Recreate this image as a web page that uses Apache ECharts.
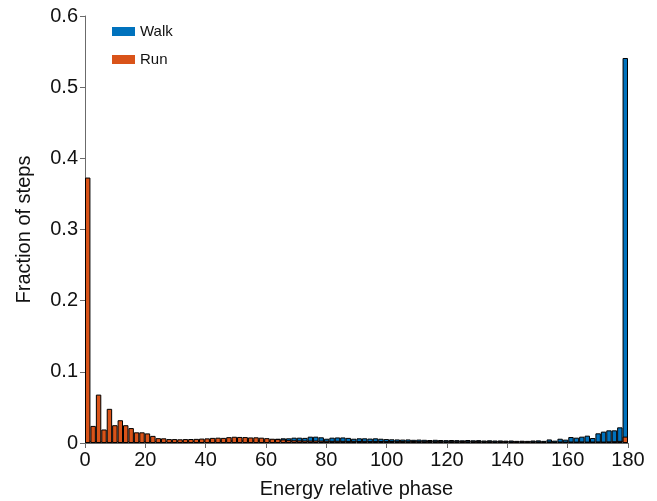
<!DOCTYPE html>
<html>
<head>
<meta charset="utf-8">
<script src="https://cdn.jsdelivr.net/npm/echarts@6/dist/echarts.min.js"></script>
<style>html,body{margin:0;padding:0;background:#fff}#c{width:657px;height:501px}</style>
</head>
<body>
<div id="c"></div>
<script>
// 100 bins of width 1.8 covering 0..180
var binCount = 100;
var binWidth = 1.8;
var xTicks = [0, 20, 40, 60, 80, 100, 120, 140, 160, 180];
var yTicks = [0, 0.1, 0.2, 0.3, 0.4, 0.5, 0.6];

var runValues = [
  0.373, 0.024, 0.068, 0.019, 0.048, 0.025, 0.032, 0.025, 0.021, 0.015,
  0.015, 0.0135, 0.010, 0.0068, 0.0066, 0.0055, 0.0055, 0.0052, 0.0055, 0.0056,
  0.0058, 0.0062, 0.0065, 0.0072, 0.0075, 0.0072, 0.0082, 0.0088, 0.0085, 0.0083,
  0.0078, 0.0080, 0.0075, 0.0068, 0.0060, 0.0055, 0.0050, 0.0040, 0.0038, 0.0036,
  0.0035, 0.0034, 0.0035, 0.0033, 0.0032, 0.0030, 0.0031, 0.0030, 0.0029, 0.0030,
  0.0028, 0.0030, 0.0027, 0.0029, 0.0028, 0.0027, 0.0028, 0.0026, 0.0027, 0.0025,
  0.0028, 0.0026, 0.0025, 0.0027, 0.0025, 0.0026, 0.0024, 0.0026, 0.0025, 0.0027,
  0.0024, 0.0025, 0.0026, 0.0024, 0.0025, 0.0023, 0.0025, 0.0024, 0.0023, 0.0022,
  0.0024, 0.0022, 0.0023, 0.0022, 0.0020, 0.0022, 0.0020, 0.0021, 0.0020, 0.0021,
  0.0020, 0.0022, 0.0020, 0.0021, 0.0022, 0.0020, 0.0023, 0.0025, 0.0030, 0.0090
];

var walkValues = [
  0.0040, 0.0030, 0.0030, 0.0025, 0.0030, 0.0028, 0.0030, 0.0028, 0.0030, 0.0032,
  0.0030, 0.0032, 0.0035, 0.0033, 0.0035, 0.0034, 0.0036, 0.0035, 0.0037, 0.0036,
  0.0038, 0.0040, 0.0042, 0.0041, 0.0043, 0.0044, 0.0045, 0.0046, 0.0046, 0.0047,
  0.0048, 0.0048, 0.0046, 0.0040, 0.0050, 0.0060, 0.0066, 0.0066, 0.0075, 0.0075,
  0.0072, 0.0089, 0.0089, 0.0080, 0.0060, 0.0075, 0.0078, 0.0078, 0.0072, 0.0060,
  0.0066, 0.0066, 0.0062, 0.0066, 0.0060, 0.0055, 0.0052, 0.0050, 0.0048, 0.0050,
  0.0045, 0.0048, 0.0045, 0.0042, 0.0045, 0.0042, 0.0040, 0.0042, 0.0040, 0.0038,
  0.0042, 0.0038, 0.0040, 0.0035, 0.0038, 0.0035, 0.0036, 0.0033, 0.0035, 0.0030,
  0.0032, 0.0030, 0.0035, 0.0037, 0.0030, 0.0050, 0.0033, 0.0060, 0.0047, 0.0084,
  0.0075, 0.0089, 0.0103, 0.0070, 0.0136, 0.0160, 0.0178, 0.0178, 0.0220, 0.5410
];

var binCenters = [];
for (var i = 0; i < binCount; i++) binCenters.push((binWidth * (i + 0.5)).toFixed(1));

var chart = echarts.init(document.getElementById('c'), null, {renderer: 'canvas'});
var font = 'Liberation Sans, Arial, sans-serif';
var axisGray = '#6b6b6b';
chart.setOption({
  animation: false,
  backgroundColor: '#ffffff',
  grid: {left: 85, right: 29, top: 16, bottom: 58, containLabel: false, outerBoundsMode: 'none'},
  legend: {
    orient: 'vertical', left: 107, top: 19,
    itemWidth: 23, itemHeight: 9, itemGap: 13, icon: 'rect',
    textStyle: {fontFamily: font, fontSize: 15, color: '#111'},
    itemStyle: {borderWidth: 0},
    data: ['Walk', 'Run']
  },
  xAxis: [
    {type: 'category', data: binCenters, show: false, boundaryGap: true},
    {type: 'value', min: 0, max: 180, interval: 20, position: 'bottom',
     name: 'Energy relative phase', nameLocation: 'middle', nameGap: 36,
     nameTextStyle: {fontFamily: font, fontSize: 20, color: '#111'},
     axisLine: {show: true, lineStyle: {color: axisGray, width: 1}},
     axisTick: {show: true, inside: false, length: 5, lineStyle: {color: axisGray}},
     axisLabel: {fontFamily: font, fontSize: 20, color: '#111', margin: 7,
       formatter: function (v) { return String(v); }},
     splitLine: {show: false}}
  ],
  yAxis: {
    type: 'value', min: 0, max: 0.6, interval: 0.1,
    name: 'Fraction of steps', nameLocation: 'middle', nameGap: 51,
    nameTextStyle: {fontFamily: font, fontSize: 20, color: '#111'},
    axisLine: {show: true, lineStyle: {color: axisGray, width: 1}},
    axisTick: {show: true, inside: false, length: 5, lineStyle: {color: axisGray}},
    axisLabel: {fontFamily: font, fontSize: 20, color: '#111', margin: 7,
      formatter: function (v) { return v === 0 ? '0' : v.toFixed(1); }},
    splitLine: {show: false}
  },
  series: [
    {name: 'Walk', type: 'bar', xAxisIndex: 0, data: walkValues,
     barWidth: '100%', barGap: '-100%', barCategoryGap: 0,
     itemStyle: {color: '#0072BD', borderColor: '#000', borderWidth: 1}},
    {name: 'Run', type: 'bar', xAxisIndex: 0, data: runValues,
     barWidth: '100%', barGap: '-100%', barCategoryGap: 0,
     itemStyle: {color: '#D95319', borderColor: '#000', borderWidth: 1}}
  ]
});
</script>
</body>
</html>
